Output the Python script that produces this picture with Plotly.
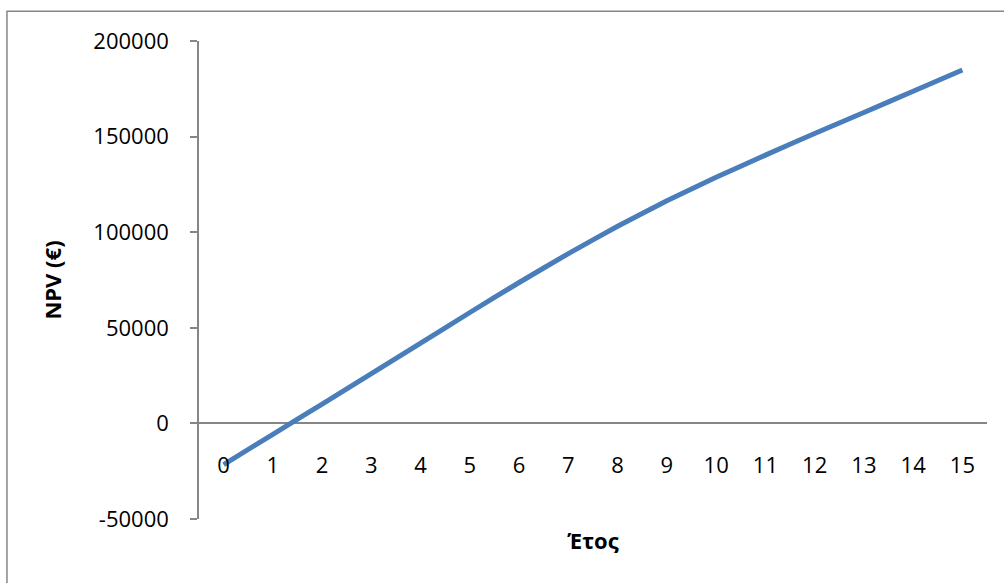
import plotly.graph_objects as go

years = list(range(16))
tick_labels = [str(y) for y in years]
npv = [-21500, -5700, 10100, 26000, 42000, 58000, 73700, 88800, 103100,
       116400, 128700, 140300, 151600, 162600, 173700, 184800]
y_ticks = [-50000, 0, 50000, 100000, 150000, 200000]
y_tick_text = ["-50000", "0", "50000", "100000", "150000", "200000"]

AX = "#868686"
FONT = "Open Sans"

fig = go.Figure()
fig.add_trace(go.Scatter(
    x=years, y=npv, mode="lines",
    line=dict(color="#4A7EBB", width=5, shape="spline", smoothing=0.5),
    showlegend=False, hoverinfo="skip",
))

fig.update_layout(
    width=1004, height=583,
    margin=dict(l=199, r=17, t=41, b=64, pad=0),
    paper_bgcolor="white", plot_bgcolor="white",
    font=dict(family=FONT, size=22, color="black"),
    xaxis=dict(
        range=[-0.5, 15.5], tickmode="array", tickvals=years, ticktext=tick_labels,
        showline=False, ticks="", showgrid=False, zeroline=False,
        anchor="free", position=0.145,
        title=dict(text="<b>Έτος</b>", font=dict(family=FONT, size=22), standoff=55),
        tickfont=dict(family=FONT, size=22),
    ),
    yaxis=dict(
        range=[-50000, 200000], tickmode="array", tickvals=y_ticks, ticktext=y_tick_text,
        showline=True, linecolor=AX, linewidth=1.5,
        ticks="outside", ticklen=7, tickcolor=AX, tickwidth=1.5,
        ticklabelstandoff=17,
        showgrid=False, zeroline=True, zerolinecolor=AX, zerolinewidth=1.5,
        title=dict(text="<b>NPV (€)</b>", font=dict(family=FONT, size=22), standoff=26),
        tickfont=dict(family=FONT, size=22),
    ),
    shapes=[dict(type="rect", xref="paper", yref="paper",
                 x0=-0.2437, x1=1.06, y0=-0.2, y1=1.062,
                 line=dict(color=AX, width=1.5), fillcolor="rgba(0,0,0,0)", layer="below")],
)

fig.write_html("out.html")
